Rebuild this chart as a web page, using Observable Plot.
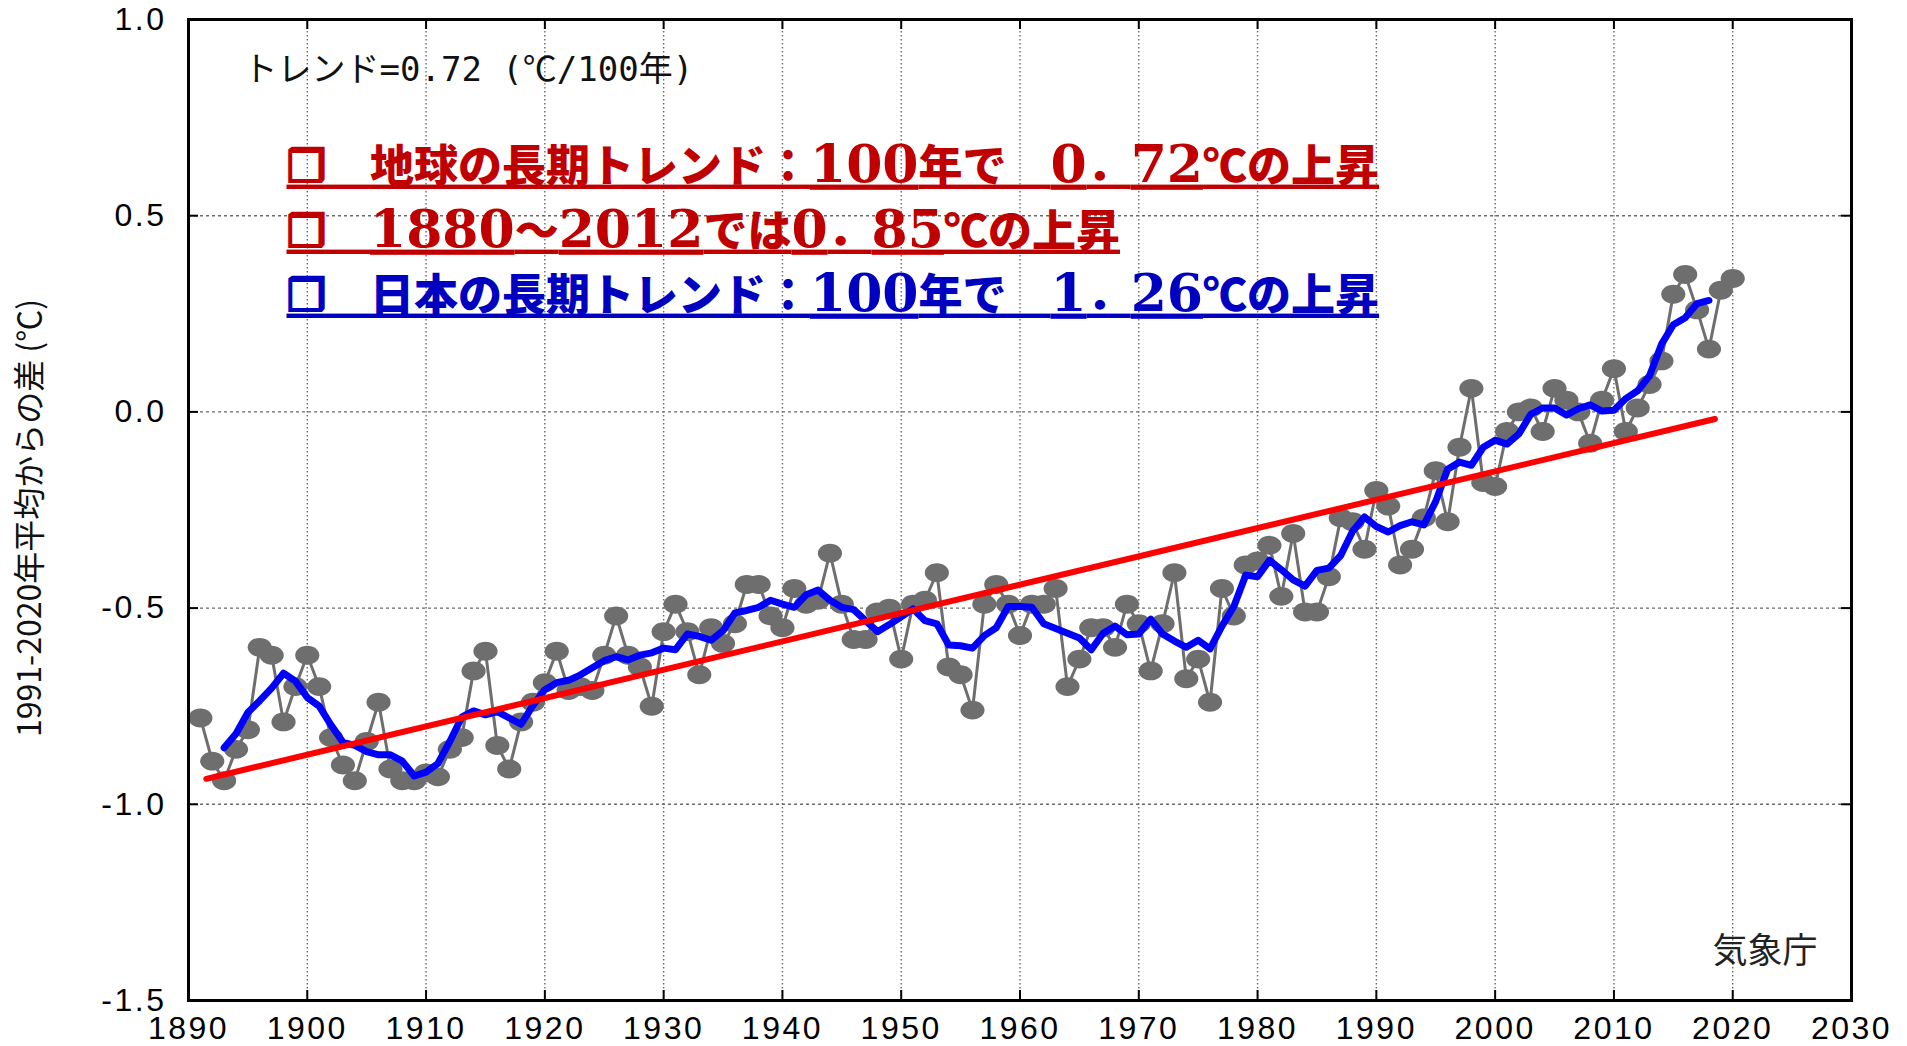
<!DOCTYPE html>
<html><head><meta charset="utf-8">
<script src="https://cdn.jsdelivr.net/npm/d3@7"></script>
<script src="https://cdn.jsdelivr.net/npm/@observablehq/plot@0.6"></script>
<style>
html,body{margin:0;padding:0;background:#fff;}
#chart svg{display:block;}
#chart g[aria-label="x-axis tick label"] text,
#chart g[aria-label="y-axis tick label"] text{letter-spacing:2.5px;}
</style></head><body><div id="chart"></div>
<script>
// ---- data ----
const years = d3.range(1891, 2021);
const anomalies = [
  -0.78,-0.89,-0.94,-0.86,-0.81,-0.60,-0.62,-0.79,-0.70,            // 1891-1899
  -0.62,-0.70,-0.83,-0.90,-0.94,-0.84,-0.74,-0.91,-0.94,-0.94,      // 1900-1909
  -0.92,-0.93,-0.86,-0.83,-0.66,-0.61,-0.85,-0.91,-0.79,-0.74,      // 1910-1919
  -0.69,-0.61,-0.71,-0.70,-0.71,-0.62,-0.52,-0.62,-0.65,-0.75,      // 1920-1929
  -0.56,-0.49,-0.56,-0.67,-0.55,-0.59,-0.54,-0.44,-0.44,-0.52,      // 1930-1939
  -0.55,-0.45,-0.49,-0.48,-0.36,-0.49,-0.58,-0.58,-0.51,-0.50,      // 1940-1949
  -0.63,-0.49,-0.48,-0.41,-0.65,-0.67,-0.76,-0.49,-0.44,-0.49,      // 1950-1959
  -0.57,-0.49,-0.49,-0.45,-0.70,-0.63,-0.55,-0.55,-0.60,-0.49,      // 1960-1969
  -0.54,-0.66,-0.54,-0.41,-0.68,-0.63,-0.74,-0.45,-0.52,-0.39,      // 1970-1979
  -0.38,-0.34,-0.47,-0.31,-0.51,-0.51,-0.42,-0.27,-0.28,-0.35,      // 1980-1989
  -0.20,-0.24,-0.39,-0.35,-0.27,-0.15,-0.28,-0.09, 0.06,-0.18,      // 1990-1999
  -0.19,-0.05, 0.00, 0.01,-0.05, 0.06, 0.03, 0.00,-0.08, 0.03,      // 2000-2009
   0.11,-0.05, 0.01, 0.07, 0.13, 0.30, 0.35, 0.26, 0.16, 0.31,      // 2010-2019
   0.34                                                             // 2020
];
const trendYears = [1891.5, 2018.5];
const trendValues = [-0.935, -0.018];

const xTicks = [1890,1900,1910,1920,1930,1940,1950,1960,1970,1980,1990,2000,2010,2020,2030];
const yTicks = [-1.5,-1.0,-0.5,0.0,0.5,1.0];
const xGrid = xTicks.slice(1, -1);
const yGrid = yTicks.slice(1, -1);

const trendLabel = "トレンド=0.72 (℃/100年)";
const annotationLines = [
  "❒　地球の長期トレンド：100年で　0．72℃の上昇",
  "❒　1880～2012では0．85℃の上昇",
  "❒　日本の長期トレンド：100年で　1．26℃の上昇"
];
const agencyLabel = "気象庁";
const yLabel = "1991-2020年平均からの差 (℃)";

// ---- build ----
const data = years.map((year, i) => ({year, value: anomalies[i]}));
const trend = trendYears.map((year, i) => ({year, value: trendValues[i]}));

const ellipse = {draw(ctx, size) {
  const r = Math.sqrt(size / Math.PI), rx = r * 1.15, ry = r * 0.9, k = 0.5523;
  ctx.moveTo(rx, 0);
  ctx.bezierCurveTo(rx, k * ry, k * rx, ry, 0, ry);
  ctx.bezierCurveTo(-k * rx, ry, -rx, k * ry, -rx, 0);
  ctx.bezierCurveTo(-rx, -k * ry, -k * rx, -ry, 0, -ry);
  ctx.bezierCurveTo(k * rx, -ry, rx, -k * ry, rx, 0);
  ctx.closePath();
}};

const cjk = "'Noto Sans CJK JP', 'DejaVu Sans', sans-serif";
const annColors = ["#c00000", "#c00000", "#0000c0"];
const annDy = [148, 213, 277];

const plot = Plot.plot({
  width: 1907, height: 1046,
  marginLeft: 188, marginRight: 56, marginTop: 19, marginBottom: 46,
  style: {fontFamily: "'Liberation Sans', Arial, sans-serif", fontSize: "32px", background: "#fff", color: "#000"},
  x: {domain: [1890, 2030], label: null},
  y: {domain: [-1.5, 1.0], label: null},
  marks: [
    Plot.gridX(xGrid, {stroke: "#6a6a6a", strokeOpacity: 1, strokeWidth: 1.4, strokeDasharray: "1.5,2.5"}),
    Plot.gridY(yGrid, {stroke: "#6a6a6a", strokeOpacity: 1, strokeWidth: 1.4, strokeDasharray: "3,3"}),
    Plot.tickX(xGrid, {x: d => d, stroke: "#000", strokeWidth: 2, insetTop: 971}),
    Plot.tickX(xGrid, {x: d => d, stroke: "#000", strokeWidth: 2, insetBottom: 971}),
    Plot.tickY(yGrid, {y: d => d, stroke: "#000", strokeWidth: 2, insetRight: 1653}),
    Plot.tickY(yGrid, {y: d => d, stroke: "#000", strokeWidth: 2, insetLeft: 1653}),
    Plot.line(data, {x: "year", y: "value", stroke: "#6e6e6e", strokeWidth: 3}),
    Plot.dot(data, {x: "year", y: "value", r: 10.5, symbol: ellipse, fill: "#6e6e6e", stroke: "none"}),
    Plot.line(data, Plot.windowY({k: 5, strict: true}, {x: "year", y: "value", stroke: "#0000ff", strokeWidth: 7})),
    Plot.line(trend, {x: "year", y: "value", stroke: "#ff0000", strokeWidth: 6}),
    Plot.frame({stroke: "#000", strokeWidth: 3}),
    Plot.axisX(xTicks, {anchor: "bottom", tickSize: 0, tickPadding: 16, tickFormat: d => String(d), label: null}),
    Plot.axisY(yTicks, {anchor: "left", tickSize: 0, tickPadding: 22, tickFormat: d => d.toFixed(1), label: null}),
    Plot.text([trendLabel], {text: d => d, frameAnchor: "top-left", dx: 55, dy: 51, textAnchor: "start", lineAnchor: "middle",
      fontSize: 34, fontFamily: "'DejaVu Sans Mono', 'Noto Sans CJK JP', monospace", fill: "#111"}),
    ...annotationLines.map((t, i) => Plot.text([t], {text: d => d, frameAnchor: "top-left", dx: 98, dy: annDy[i],
      textAnchor: "start", lineAnchor: "middle", fontSize: 44, fontWeight: 900, fontFamily: cjk, fill: annColors[i]})),
    Plot.text([agencyLabel], {text: d => d, frameAnchor: "bottom-right", dx: -34, dy: -49, textAnchor: "end", lineAnchor: "middle",
      fontSize: 35, fontFamily: cjk, fill: "#222"}),
    Plot.text([yLabel], {text: d => d, frameAnchor: "left", dx: -158, dy: 8, rotate: -90, textAnchor: "middle", lineAnchor: "middle",
      fontSize: 32, fontFamily: cjk, fill: "#111"})
  ]
});

// underline the annotation lines; draw their digits in a wide bold serif face
d3.select(plot).selectAll("text")
  .filter(function() { return annotationLines.includes(this.textContent); })
  .style("text-decoration", "underline")
  .style("text-decoration-thickness", "4px")
  .style("text-underline-offset", "8px")
  .each(function(d, i) {
    const sel = d3.select(this);
    const color = annColors[annotationLines.indexOf(this.textContent)];
    const parts = this.textContent.match(/[0-9]+|❒|[^0-9❒]+/g);
    sel.text(null);
    for (const p of parts) {
      const ts = sel.append("tspan").text(p);
      if (/^[0-9]/.test(p)) ts.attr("font-family", "'DejaVu Serif', serif").attr("font-size", 52).attr("font-weight", "bold");
      else if (p === "❒") ts.attr("font-family", "'DejaVu Sans', sans-serif").attr("font-weight", "bold")
        .attr("stroke", color).attr("stroke-width", 2.2);
    }
  });

document.getElementById("chart").appendChild(plot);
</script></body></html>
